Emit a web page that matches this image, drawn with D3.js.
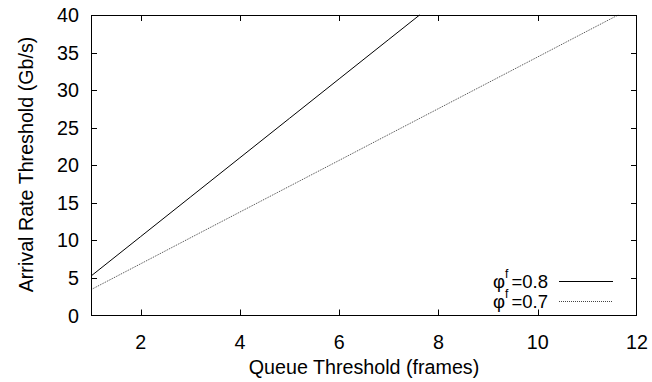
<!DOCTYPE html>
<html>
<head>
<meta charset="utf-8">
<script src="https://cdn.jsdelivr.net/npm/d3@7"></script>
<style>
  html, body { margin: 0; padding: 0; background: #fff; }
  svg { display: block; font-family: "Liberation Sans", Arial, Helvetica, sans-serif; }
</style>
</head>
<body>
<svg id="chart" width="652" height="382"></svg>
<script>
// Queue threshold (frames) vs arrival-rate threshold (Gb/s)
const xTicks = [2, 4, 6, 8, 10, 12];
const yTicks = [0, 5, 10, 15, 20, 25, 30, 35, 40];

const queue08 = [1, 2, 3, 4, 5, 6, 7, 7.62];
const rate08  = [5.25, 10.5, 15.75, 21, 26.25, 31.5, 36.75, 40];

const queue07 = [1, 2, 3, 4, 5, 6, 7, 8, 9, 10, 11, 11.62];
const rate07  = [3.44, 6.88, 10.33, 13.77, 17.21, 20.65, 24.1, 27.54, 30.98, 34.42, 37.87, 40];

const seriesNames = ["0.8", "0.7"];

const svg = d3.select("#chart");
const m = { left: 91, right: 637, top: 15, bottom: 315.5 };

const x = d3.scaleLinear().domain([1, 12]).range([m.left, m.right]);
const y = d3.scaleLinear().domain([0, 40]).range([m.bottom, m.top]);

const tickLen = 6;
const fontSize = 19.7;

// inward ticks on all four sides
const g = svg.append("g").attr("stroke", "#000").attr("stroke-width", 1);
xTicks.forEach(t => {
  const px = Math.round(x(t)) + 0.5;
  if (t < 12) {
    g.append("line").attr("x1", px).attr("x2", px).attr("y1", m.bottom).attr("y2", m.bottom - tickLen);
    g.append("line").attr("x1", px).attr("x2", px).attr("y1", m.top).attr("y2", m.top + tickLen);
  }
});
yTicks.forEach(t => {
  const py = Math.round(y(t)) + 0.5;
  if (t > 0 && t < 40) {
    g.append("line").attr("x1", m.left).attr("x2", m.left + tickLen).attr("y1", py).attr("y2", py);
    g.append("line").attr("x1", m.right).attr("x2", m.right - tickLen).attr("y1", py).attr("y2", py);
  }
});

// tick labels
svg.append("g").selectAll("text").data(xTicks).join("text")
  .attr("x", d => x(d)).attr("y", 348.5)
  .attr("text-anchor", "middle").attr("font-size", fontSize).attr("fill", "#000")
  .text(d => d);
svg.append("g").selectAll("text").data(yTicks).join("text")
  .attr("x", 79).attr("y", d => y(d) + 7)
  .attr("text-anchor", "end").attr("font-size", fontSize).attr("fill", "#000")
  .text(d => d);

// axis titles
svg.append("text").attr("x", 364).attr("y", 373.5)
  .attr("text-anchor", "middle").attr("font-size", fontSize).text("Queue Threshold (frames)");
svg.append("text").attr("transform", "translate(33,164.5) rotate(-90)")
  .attr("text-anchor", "middle").attr("font-size", fontSize).text("Arrival Rate Threshold (Gb/s)");

// data lines
const line = d3.line().x(d => x(d[0])).y(d => y(d[1]));
svg.append("path").datum(d3.zip(queue08, rate08))
  .attr("d", line).attr("fill", "none").attr("stroke", "#000").attr("stroke-width", 1);
svg.append("path").datum(d3.zip(queue07, rate07))
  .attr("d", line).attr("fill", "none").attr("stroke", "#444").attr("stroke-width", 1)
  .attr("stroke-dasharray", "1,1");

// legend (superscript drawn as its own small label above each φ)
const legend = svg.append("g");
const rows = [
  { name: seriesNames[0], y: 281, stroke: "#000", dash: null },
  { name: seriesNames[1], y: 301, stroke: "#444", dash: "1,1" }
];
rows.forEach(r => {
  legend.append("text").attr("x", 548).attr("y", r.y + 7)
    .attr("text-anchor", "end").attr("font-size", 18.5)
    .text("=" + r.name);
  legend.append("text").attr("x", 505).attr("y", r.y + 7)
    .attr("text-anchor", "end").attr("font-size", 18.5)
    .text("φ");
  legend.append("text").attr("x", 505).attr("y", r.y - 3)
    .attr("font-size", 12).text("f");
  legend.append("line").attr("x1", 559).attr("x2", 613)
    .attr("y1", r.y + 0.5).attr("y2", r.y + 0.5)
    .attr("stroke", r.stroke).attr("stroke-width", 1).attr("stroke-dasharray", r.dash);
});

// plot frame
svg.append("rect").attr("x", m.left + 0.5).attr("y", m.top + 0.5)
  .attr("width", m.right - m.left - 1).attr("height", m.bottom - m.top - 0.5)
  .attr("fill", "none").attr("stroke", "#000").attr("stroke-width", 1);
</script>
</body>
</html>
